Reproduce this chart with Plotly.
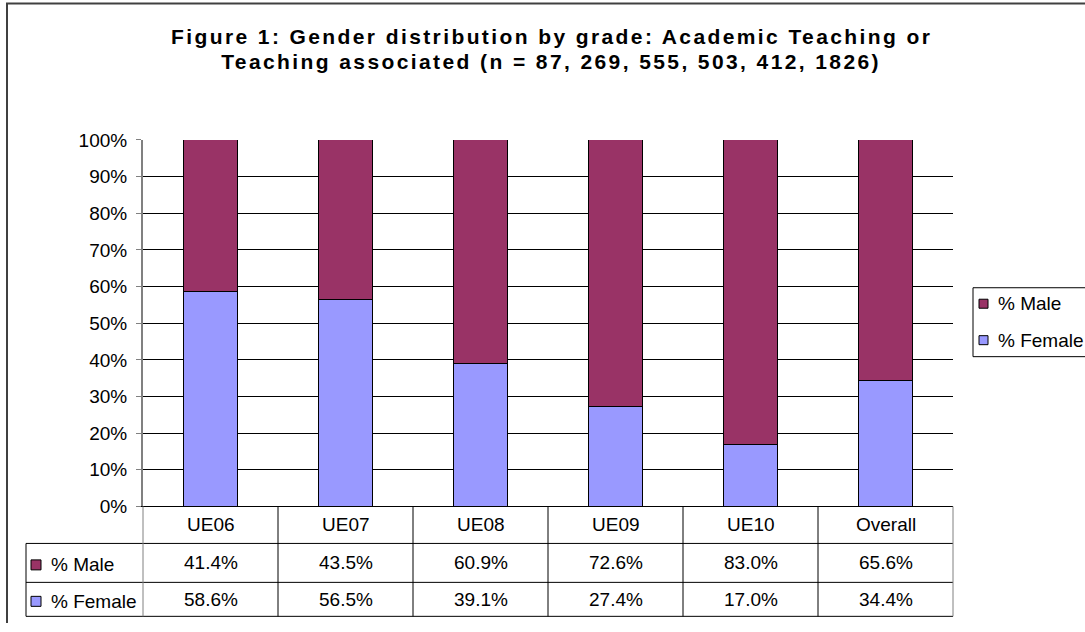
import plotly.graph_objects as go

# ---- data ----
categories = ["UE06", "UE07", "UE08", "UE09", "UE10", "Overall"]
male_pct = [41.4, 43.5, 60.9, 72.6, 83.0, 65.6]
female_pct = [58.6, 56.5, 39.1, 27.4, 17.0, 34.4]
series_names = ["% Male", "% Female"]
title_lines = ["Figure 1: Gender distribution by grade: Academic Teaching or",
               "Teaching associated (n = 87, 269, 555, 503, 412, 1826)"]

MALE_COLOR = "#993366"
FEMALE_COLOR = "#9999FF"
FONT = "Liberation Sans, Arial, sans-serif"
TXT = 19

W, H = 1085, 632
# calibration of the photographed page (vertical); the graph div is lifted by SHIFT px
SHIFT = 9
VS = 0.968
VOFF = 8.6 - SHIFT * VS
def X(p): return p / W
def Y(p):
    fy = max((p - VOFF) / VS, 1.0)
    return 1 - fy / H

# plot area in pixels (reference coordinates)
PL, PR, PT, PB = 143, 953, 139, 506
TL = 26                      # table left edge
ROWS = [PB, 543, 582, 616]   # table row boundaries

fig = go.Figure()
fig.add_trace(go.Bar(x=categories, y=female_pct, name=series_names[1],
                     marker=dict(color=FEMALE_COLOR, line=dict(color="black", width=1)),
                     width=0.4))
fig.add_trace(go.Bar(x=categories, y=male_pct, name=series_names[0],
                     marker=dict(color=MALE_COLOR, line=dict(color="black", width=1)),
                     width=0.4))

shapes = []
annotations = []

# title (two centred lines)
annotations.append(dict(text="<b>%s</b>" % title_lines[0], x=X(551), y=Y(35.5), xref="paper", yref="paper",
                        showarrow=False, xanchor="center", yanchor="middle",
                        font=dict(family=FONT, size=21, color="black")))
annotations.append(dict(text="<b>%s</b>" % title_lines[1], x=X(551), y=Y(60.5), xref="paper", yref="paper",
                        showarrow=False, xanchor="center", yanchor="middle",
                        font=dict(family=FONT, size=21, color="black")))

# outer chart border
shapes.append(dict(type="rect", xref="paper", yref="paper", x0=X(7), x1=X(1110),
                   y0=Y(2.5), y1=Y(720), line=dict(color="#404040", width=2)))

# table horizontal lines
for yy in ROWS[1:]:
    shapes.append(dict(type="line", xref="paper", yref="paper", x0=X(TL), x1=X(PR),
                       y0=Y(yy), y1=Y(yy), line=dict(color="black", width=1)))
# table vertical lines
ncat = len(categories)
colw = (PR - PL) / ncat
for i in range(ncat + 1):
    xx = PL + i * colw
    shapes.append(dict(type="line", xref="paper", yref="paper", x0=X(xx), x1=X(xx),
                       y0=Y(PB), y1=Y(ROWS[-1]),
                       line=dict(color="#808080" if i in (0, ncat) else "black", width=1)))
shapes.append(dict(type="line", xref="paper", yref="paper", x0=X(TL), x1=X(TL),
                   y0=Y(ROWS[1]), y1=Y(ROWS[-1]), line=dict(color="black", width=1)))

# table text
row_centers = [(ROWS[i] + ROWS[i + 1]) / 2 for i in range(3)]
for i, c in enumerate(categories):
    cx = PL + (i + 0.5) * colw
    annotations.append(dict(text=c, x=X(cx), y=Y(row_centers[0]), xref="paper", yref="paper",
                            showarrow=False, xanchor="center", yanchor="middle",
                            font=dict(family=FONT, size=TXT, color="black")))
    annotations.append(dict(text="%.1f%%" % male_pct[i], x=X(cx), y=Y(row_centers[1]), xref="paper",
                            yref="paper", showarrow=False, xanchor="center", yanchor="middle",
                            font=dict(family=FONT, size=TXT, color="black")))
    annotations.append(dict(text="%.1f%%" % female_pct[i], x=X(cx), y=Y(row_centers[2]), xref="paper",
                            yref="paper", showarrow=False, xanchor="center", yanchor="middle",
                            font=dict(family=FONT, size=TXT, color="black")))

# table legend keys
for name, col, cy in [(series_names[0], MALE_COLOR, row_centers[1]), (series_names[1], FEMALE_COLOR, row_centers[2])]:
    shapes.append(dict(type="rect", xref="paper", yref="paper", x0=X(31), x1=X(41),
                       y0=Y(cy - 5 + 2), y1=Y(cy + 5 + 2), fillcolor=col, line=dict(color="black", width=1)))
    annotations.append(dict(text=name, x=X(49), y=Y(cy + 2), xref="paper", yref="paper", showarrow=False,
                            xanchor="left", yanchor="middle", font=dict(family=FONT, size=TXT, color="black")))

# right legend
shapes.append(dict(type="rect", xref="paper", yref="paper", x0=X(973), x1=X(1110), y0=Y(287), y1=Y(356),
                   line=dict(color="black", width=1)))
for name, col, cy in [(series_names[0], MALE_COLOR, 303), (series_names[1], FEMALE_COLOR, 339.5)]:
    shapes.append(dict(type="rect", xref="paper", yref="paper", x0=X(979), x1=X(988),
                       y0=Y(cy - 4.5), y1=Y(cy + 4.5), fillcolor=col, line=dict(color="black", width=1)))
    annotations.append(dict(text=name, x=X(996), y=Y(cy), xref="paper", yref="paper", showarrow=False,
                            xanchor="left", yanchor="middle", font=dict(family=FONT, size=TXT, color="black")))

fig.update_layout(
    width=W, height=H,
    margin=dict(l=0, r=0, t=0, b=0),
    paper_bgcolor="white", plot_bgcolor="white",
    barmode="stack", showlegend=False,
    shapes=shapes, annotations=annotations,
    font=dict(family=FONT, size=TXT, color="black"),
    xaxis=dict(domain=[X(PL), X(PR)], range=[-0.5, ncat - 0.5], showticklabels=False,
               showgrid=False, showline=True, linecolor="black", linewidth=1, ticks="",
               zeroline=False, fixedrange=True),
    yaxis=dict(domain=[Y(PB), Y(PT)], range=[0, 100], dtick=10, ticksuffix="%",
               showgrid=True, gridcolor="black", gridwidth=1, showline=True, linecolor="#808080",
               linewidth=2, ticks="outside", ticklen=5, tickcolor="#808080",
               ticklabelstandoff=5, zeroline=False,
               tickfont=dict(family=FONT, size=TXT, color="black"), fixedrange=True),
)

post = """
document.body.style.margin = '0';
document.body.style.overflow = 'hidden';
var gd = document.getElementById('{plot_id}');
gd.style.marginTop = '-%dpx';
gd.querySelectorAll('g.annotation[data-index="0"] text, g.annotation[data-index="1"] text')
  .forEach(function (t) { t.style.letterSpacing = '2.4px'; });
""" % SHIFT

fig.write_html("out.html", config={"displayModeBar": False}, post_script=post)
